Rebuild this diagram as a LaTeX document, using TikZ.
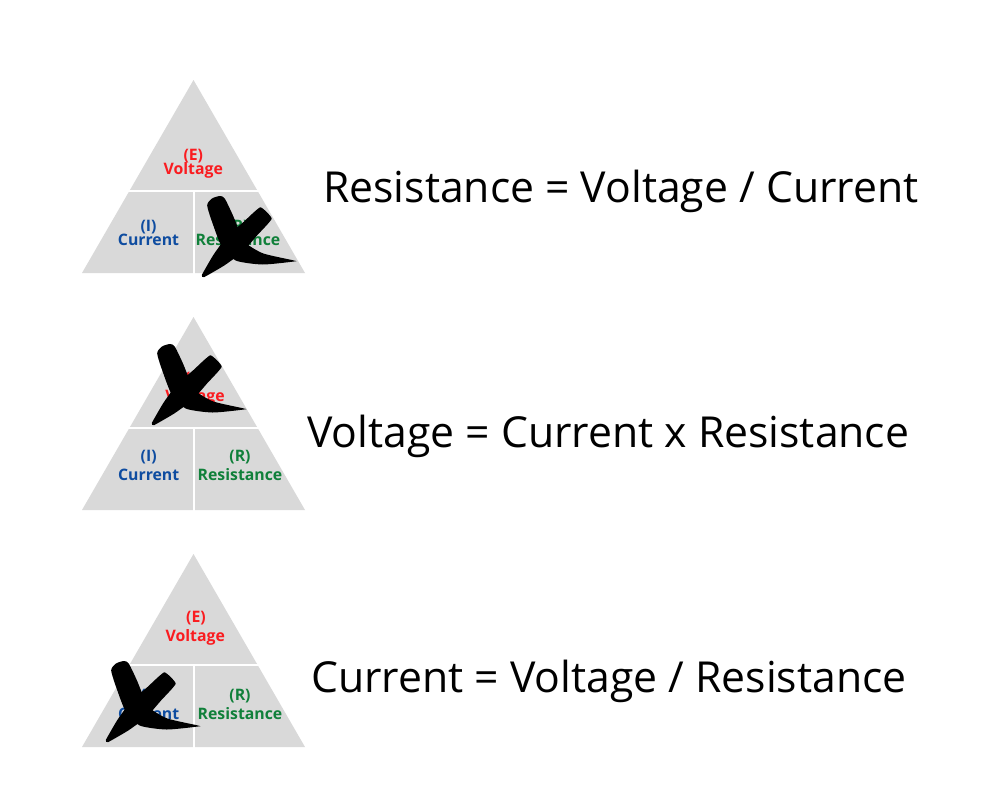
\documentclass[tikz,border=0pt]{standalone}
\usepackage{fontspec}
\setmainfont{Open Sans}
\definecolor{trigray}{RGB}{217,217,217}
\definecolor{labred}{RGB}{250,28,32}
\definecolor{labblue}{RGB}{14,76,160}
\definecolor{labgreen}{RGB}{16,128,58}
\tikzset{
  ohmtri/.pic={
    \fill[trigray] (0,0) -- (-111.5,193) -- (111.5,193) -- cycle;
    \draw[divline] (-75,111) -- (75,111);
    \draw[divline] (0.5,111) -- (0.5,196);
  },
  brushx/.pic={
    % stroke from top-left, curving into the right-hand tail
    \fill[black] plot[smooth cycle,tension=0.4] coordinates {
      (-25.8,-34.6) (-21,-41.5) (-13,-44) (-8.2,-41.4)
      (0.2,-24) (6.9,-7.4) (13.1,3.4) (30.4,13.5) (61,20.5)
      (61,21.5) (29.6,24.5) (2.9,20.6) (-10.9,7.4) (-20.2,-16)
    };
    % stroke from lower-left to upper-right
    \fill[black] plot[smooth cycle,tension=0.25] coordinates {
      (-31.1,34.9) (-19.6,14.9) (-6.3,-3.3) (10.5,-18) (27.3,-32.7)
      (38.7,-21.3) (24,-4.5) (9.3,12.3) (-8.9,25.6) (-28.9,37.1)
    };
  }
}
\begin{document}
\begin{tikzpicture}[x=1pt,y=-1pt,
  divline/.style={draw=white,line width=2pt},
  lab/.style={font=\fontsize{15.8}{18}\selectfont\bfseries,inner sep=0,anchor=base},
  eq/.style={font=\fontsize{42.7}{50}\selectfont,inner sep=0,anchor=base west}]
\fill[white] (0,0) rectangle (1000,800);
\useasboundingbox (0,0) rectangle (1000,800);

% ---- triangle 1 ----
\pic at (193.5,80) {ohmtri};
\node[lab,text=labred]   (e1)  at (193.3,160)   {(E)};
\node[lab,text=labred]   (v1)  at (193.3,174)   {Voltage};
\node[lab,text=labblue]  (i1)  at (148.5,231.7) {(I)};
\node[lab,text=labblue]  (c1)  at (148.5,245.7) {Current};
\node[lab,text=labgreen] (r1)  at (238,231.7)   {(R)};
\node[lab,text=labgreen] (rs1) at (238,245.7)   {Resistance};
\pic at (233,240) {brushx};
\node[eq] (eq1) at (323,202) {Resistance = Voltage / Current};

% ---- triangle 2 ----
\pic at (193.5,317) {ohmtri};
\node[lab,text=labred]   (e2)  at (195,383.5) {(E)};
\node[lab,text=labred]   (v2)  at (195,401.7) {Voltage};
\node[lab,text=labblue]  (i2)  at (148.7,461) {(I)};
\node[lab,text=labblue]  (c2)  at (148.7,480) {Current};
\node[lab,text=labgreen] (r2)  at (240,461)   {(R)};
\node[lab,text=labgreen] (rs2) at (240,480)   {Resistance};
\pic at (183,388) {brushx};
\node[eq] (eq2) at (307,447) {Voltage = Current x Resistance};

% ---- triangle 3 ----
\pic at (193.5,554) {ohmtri};
\node[lab,text=labred]   (e3)  at (196,622.3)   {(E)};
\node[lab,text=labred]   (v3)  at (195.3,641.7) {Voltage};
\node[lab,text=labblue]  (i3)  at (148.7,700)   {(I)};
\node[lab,text=labblue]  (c3)  at (148.7,719)   {Current};
\node[lab,text=labgreen] (r3)  at (240,700.3)   {(R)};
\node[lab,text=labgreen] (rs3) at (240,719)     {Resistance};
\pic at (137,705) {brushx};
\node[eq] (eq3) at (311,692) {Current = Voltage / Resistance};
\end{tikzpicture}
\end{document}
